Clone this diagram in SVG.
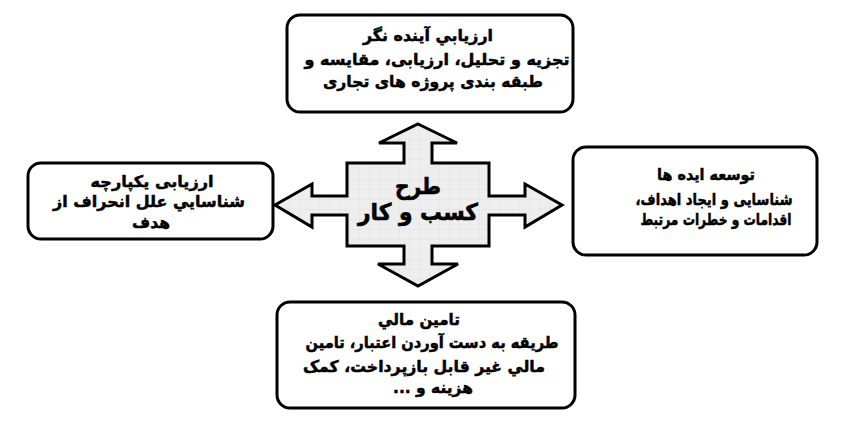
<svg xmlns="http://www.w3.org/2000/svg" width="841" height="427" viewBox="0 0 841 427">
<style>
.box{fill:#fff;stroke:#000;stroke-width:3}
.t{font-family:"DejaVu Sans",sans-serif;font-weight:bold;font-size:16px;fill:#000;stroke:#000;stroke-width:0.5;text-anchor:middle}
.c{font-family:"DejaVu Sans",sans-serif;font-weight:bold;font-size:23px;fill:#000;stroke:#000;stroke-width:0.6;text-anchor:middle}
</style>
<defs>
<pattern id="grid" width="10" height="10" patternUnits="userSpaceOnUse">
<rect width="10" height="10" fill="#eeeeee"/>
<path d="M10 0V10M0 10H10" stroke="#dcdcdc" stroke-width="0.6" fill="none"/>
</pattern>
</defs>
<rect width="841" height="427" fill="#fff"/>
<g id="center">
<polygon points="418,124 457,143 432,143 432,163 489,163 489,196 525,196 525,184 562,205 525,227 525,215 489,215 489,246 432,246 432,264 458,264 418,286 378,264 404,264 404,246 347,246 347,215 312,215 312,227 275,205 312,184 312,196 347,196 347,163 404,163 404,143 379,143" fill="url(#grid)" stroke="#000" stroke-width="3" stroke-linejoin="miter"/>
<text class="c" direction="rtl" x="418" y="194" textLength="46" lengthAdjust="spacingAndGlyphs">طرح</text>
<text class="c" direction="rtl" x="418" y="220" textLength="120" lengthAdjust="spacingAndGlyphs">کسب و کار</text>
</g>
<g id="connectors"></g>
<g id="top">
<rect class="box" x="287" y="15" width="286" height="97" rx="13"/>
<text class="t" direction="rtl" x="428" y="41" textLength="130" lengthAdjust="spacingAndGlyphs">ارزيابي آينده نگر</text>
<text class="t" direction="rtl" x="437" y="65" textLength="265" lengthAdjust="spacingAndGlyphs">تجزیه و تحلیل، ارزیابی، مقایسه و</text>
<text class="t" direction="rtl" x="433" y="87" textLength="220" lengthAdjust="spacingAndGlyphs">طبقه بندی پروژه های تجاری</text>
</g>
<g id="left">
<rect class="box" x="28" y="163" width="245" height="76" rx="13"/>
<text class="t" direction="rtl" x="152" y="187" textLength="123" lengthAdjust="spacingAndGlyphs">ارزیابی یکپارچه</text>
<text class="t" direction="rtl" x="149" y="207" textLength="192" lengthAdjust="spacingAndGlyphs">شناسايي علل انحراف از</text>
<text class="t" direction="rtl" x="151" y="228" textLength="38" lengthAdjust="spacingAndGlyphs">هدف</text>
</g>
<g id="right">
<rect class="box" x="573" y="147" width="244" height="108" rx="13"/>
<text class="t" direction="rtl" x="706" y="180" textLength="98" lengthAdjust="spacingAndGlyphs">توسعه ایده ها</text>
<text class="t" direction="rtl" x="714" y="205" textLength="157" lengthAdjust="spacingAndGlyphs">شناسایی و ایجاد اهداف،</text>
<text class="t" direction="rtl" x="716" y="225" textLength="151" lengthAdjust="spacingAndGlyphs">اقدامات و خطرات مرتبط</text>
</g>
<g id="bottom">
<rect class="box" x="277" y="302" width="298" height="106" rx="13"/>
<text class="t" direction="rtl" x="419" y="325" textLength="82" lengthAdjust="spacingAndGlyphs">تامین مالي</text>
<text class="t" direction="rtl" x="432" y="348" textLength="253" lengthAdjust="spacingAndGlyphs">طریقه به دست آوردن اعتبار، تامین</text>
<text class="t" direction="rtl" x="424" y="372" textLength="242" lengthAdjust="spacingAndGlyphs">مالي غیر قابل بازپرداخت، کمک</text>
<text class="t" direction="rtl" x="433" y="393" textLength="80" lengthAdjust="spacingAndGlyphs">هزینه و ...</text>
</g>
</svg>
